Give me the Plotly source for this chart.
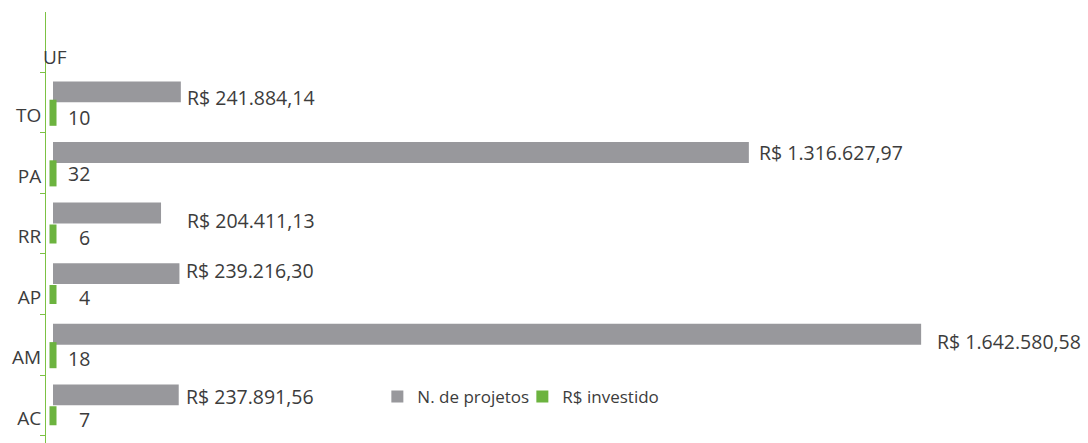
import plotly.graph_objects as go

# Estados (UF), de baixo para cima
ufs = ["AC", "AM", "AP", "RR", "PA", "TO"]
# Valores em reais (barras cinza)
valores = [237891.56, 1642580.58, 239216.30, 204411.13, 1316627.97, 241884.14]
# Número de projetos (barras verdes)
projetos = [7, 18, 4, 6, 32, 10]

GRAY = "#98989c"
GREEN = "#6cb33f"
AXIS_GREEN = "#7cc243"
TEXT = "#3c3c3c"
FONT = "Open Sans"


def brl(v):
    s = f"{v:,.2f}".replace(",", "X").replace(".", ",").replace("X", ".")
    return f"R$ {s}"


# label nudges in pixels (dx, dy) for the money labels, per row
money_nudge = [(5, 9), (14, 3), (5, 14), (24, 3), (8, 10), (4, 5)]
count_dy = [-14, -14, -13, -14, -11, -15]

fig = go.Figure()
fig.add_trace(go.Bar(
    y=ufs, x=valores, orientation="h", name="N. de projetos",
    marker=dict(color=GRAY, line=dict(width=0)),
    offset=0.0, width=0.345,
))
# the counts are tiny on the money scale; the outline keeps them visible
fig.add_trace(go.Bar(
    y=ufs, x=projetos, orientation="h", name="R$ investido",
    marker=dict(color=GREEN, line=dict(color=GREEN, width=7)),
    offset=-0.33, width=0.315, showlegend=False,
))
# legend swatch for the green series
fig.add_trace(go.Bar(
    y=[None], x=[None], orientation="h", name="R$ investido",
    marker=dict(color=GREEN, line=dict(width=0)),
))

annotations = []
for uf, v, (dx, dy) in zip(ufs, valores, money_nudge):
    annotations.append(dict(
        x=v, y=uf, xref="x", yref="y", text=brl(v), showarrow=False,
        xanchor="left", yanchor="middle", xshift=dx, yshift=dy,
        font=dict(family=FONT, size=19.5, color=TEXT),
    ))
for uf, n, dy in zip(ufs, projetos, count_dy):
    annotations.append(dict(
        x=n, y=uf, xref="x", yref="y", text=str(n), showarrow=False,
        xanchor="right", yanchor="middle", xshift=39, yshift=dy,
        font=dict(family=FONT, size=19.5, color=TEXT),
    ))
annotations.append(dict(
    x=0, y=0.896, xref="paper", yref="paper", text="UF", showarrow=False,
    xanchor="left", yanchor="middle", xshift=-5,
    font=dict(family=FONT, size=19, color=TEXT),
))

fig.update_layout(
    width=1088, height=443,
    margin=dict(l=46, r=0, t=12, b=0),
    paper_bgcolor="white", plot_bgcolor="white",
    barmode="overlay",
    showlegend=True,
    legend=dict(
        orientation="h", x=0.318, y=0.107, xanchor="left", yanchor="middle",
        font=dict(family=FONT, size=17, color=TEXT),
        entrywidth=100, bgcolor="rgba(0,0,0,0)",
    ),
    annotations=annotations,
    xaxis=dict(
        range=[-13245, 1958323], visible=False, showgrid=False, zeroline=False,
    ),
    yaxis=dict(
        type="category", categoryorder="array", categoryarray=ufs,
        range=[-0.622, 6.49],
        showline=True, linecolor=AXIS_GREEN, linewidth=1,
        ticks="outside", ticklen=5, tickcolor=AXIS_GREEN, tickwidth=1,
        tickson="boundaries", showgrid=False, zeroline=False,
        ticklabelshift=13,
        tickfont=dict(family=FONT, size=19, color=TEXT),
    ),
    font=dict(family=FONT, color=TEXT),
)

fig.write_html("out.html")
